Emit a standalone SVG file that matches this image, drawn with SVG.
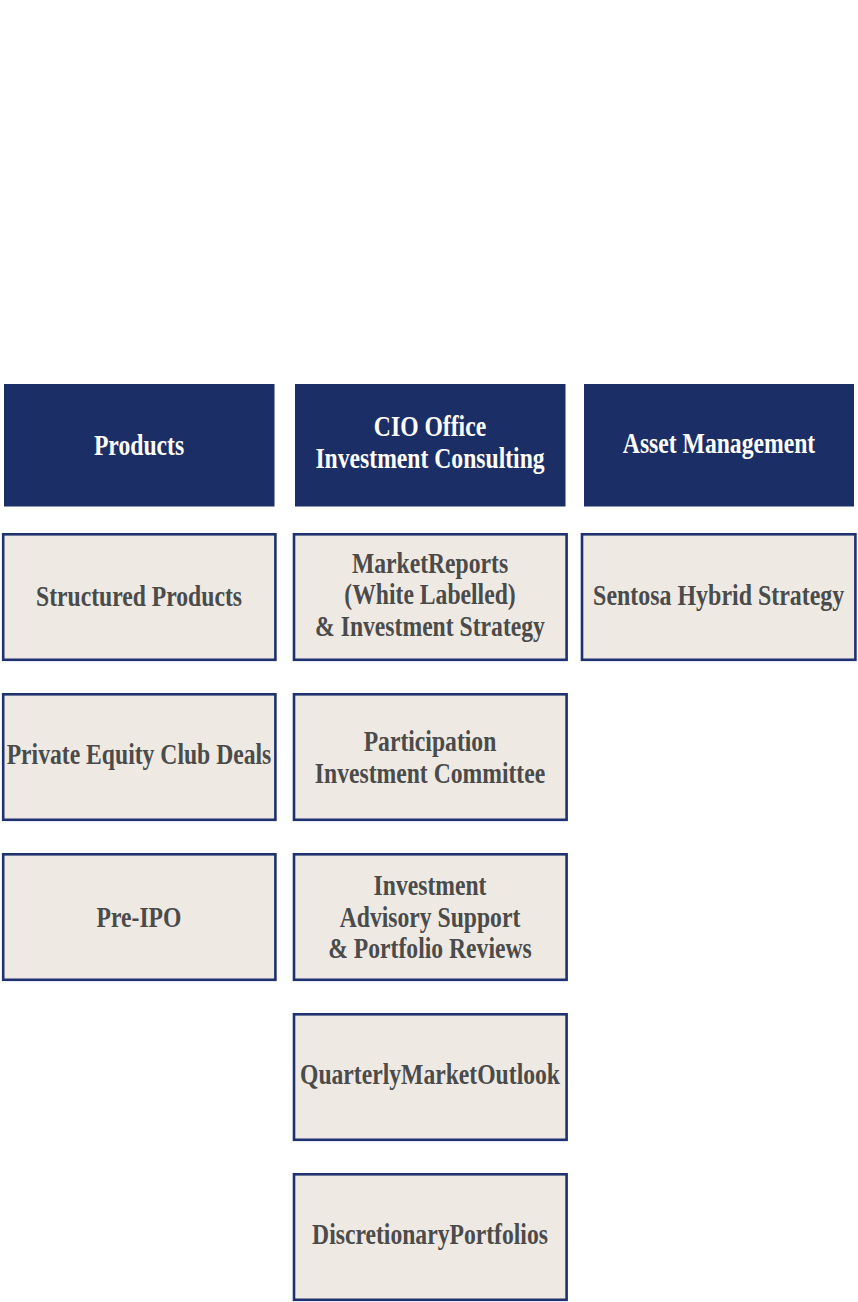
<svg xmlns="http://www.w3.org/2000/svg" width="858" height="1302" viewBox="0 0 858 1302">
<style>
.hd{fill:#1b2e66}
.bx{fill:#eeeae3;stroke:#1f3170;stroke-width:2.6}
text{font-family:"Liberation Serif","Times New Roman",serif;font-weight:bold;font-size:28.5px;text-anchor:middle}
.wt{fill:#ffffff}
.gt{fill:#4b4b4b}
</style>
<rect width="858" height="1302" fill="#ffffff"/>
<g id="h-products">
<rect class="hd" x="4" y="384" width="270.5" height="122.5"/>
<text class="wt" transform="translate(139,454.5) scale(0.83,1)">Products</text>
</g>
<g id="h-cio">
<rect class="hd" x="295" y="384" width="270.5" height="122.5"/>
<text class="wt" transform="translate(430,435.5) scale(0.83,1)">CIO Office</text>
<text class="wt" transform="translate(430,467.5) scale(0.83,1)">Investment Consulting</text>
</g>
<g id="h-asset">
<rect class="hd" x="584" y="384" width="270" height="122.5"/>
<text class="wt" transform="translate(719,452.5) scale(0.83,1)">Asset Management</text>
</g>
<g id="n-structured">
<rect class="bx" x="3.2" y="534.3" width="272.2" height="125.5"/>
<text class="gt" transform="translate(139,606) scale(0.83,1)">Structured Products</text>
</g>
<g id="n-pe">
<rect class="bx" x="3.2" y="694.3" width="272.2" height="125.5"/>
<text class="gt" transform="translate(139,764) scale(0.83,1)">Private Equity Club Deals</text>
</g>
<g id="n-preipo">
<rect class="bx" x="3.2" y="854.3" width="272.2" height="125.5"/>
<text class="gt" transform="translate(139,927) scale(0.83,1)">Pre-IPO</text>
</g>
<g id="n-market">
<rect class="bx" x="294" y="534.3" width="272.6" height="125.5"/>
<text class="gt" transform="translate(430,572.5) scale(0.83,1)">MarketReports</text>
<text class="gt" transform="translate(430,604) scale(0.83,1)">(White Labelled)</text>
<text class="gt" transform="translate(430,635.5) scale(0.83,1)">&amp; Investment Strategy</text>
</g>
<g id="n-participation">
<rect class="bx" x="294" y="694.3" width="272.6" height="125.5"/>
<text class="gt" transform="translate(430,751) scale(0.83,1)">Participation</text>
<text class="gt" transform="translate(430,782.5) scale(0.83,1)">Investment Committee</text>
</g>
<g id="n-advisory">
<rect class="bx" x="294" y="854.3" width="272.6" height="125.5"/>
<text class="gt" transform="translate(430,895) scale(0.83,1)">Investment</text>
<text class="gt" transform="translate(430,926.5) scale(0.83,1)">Advisory Support</text>
<text class="gt" transform="translate(430,958) scale(0.83,1)">&amp; Portfolio Reviews</text>
</g>
<g id="n-quarterly">
<rect class="bx" x="294" y="1014.3" width="272.6" height="125.5"/>
<text class="gt" transform="translate(430,1083.5) scale(0.83,1)">QuarterlyMarketOutlook</text>
</g>
<g id="n-discretionary">
<rect class="bx" x="294" y="1174.3" width="272.6" height="125.5"/>
<text class="gt" transform="translate(430,1243.5) scale(0.83,1)">DiscretionaryPortfolios</text>
</g>
<g id="n-sentosa">
<rect class="bx" x="582" y="534.3" width="273.4" height="125.5"/>
<text class="gt" transform="translate(718.7,604.5) scale(0.84,1)">Sentosa Hybrid Strategy</text>
</g>
<g id="connectors"></g>
</svg>
